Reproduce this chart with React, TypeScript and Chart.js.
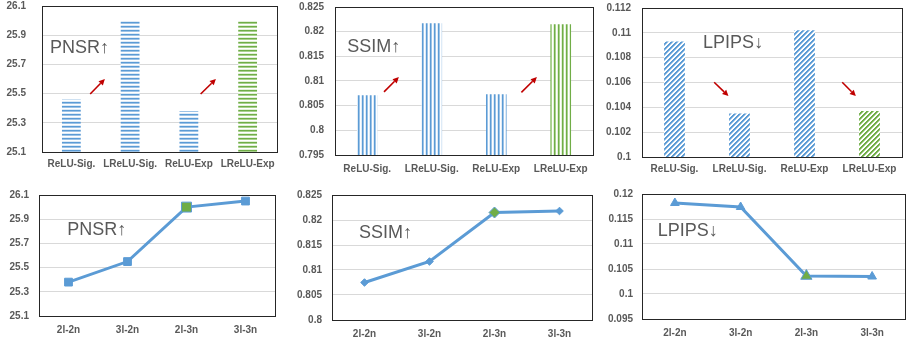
import React, { useEffect, useRef } from "react";
import { Chart, registerables } from "chart.js";

Chart.register(...registerables);

// ---------- data ----------
const barCategories = ["ReLU-Sig.", "LReLU-Sig.", "ReLU-Exp", "LReLU-Exp"];
const barPSNR = [25.46, 26.0, 25.38, 26.0];
const barSSIM = [0.8071, 0.8217, 0.8073, 0.8215];
const barLPIPS = [0.1093, 0.1035, 0.1102, 0.1037];

const lineCategories = ["2l-2n", "3l-2n", "2l-3n", "3l-3n"];
const linePSNR = [25.38, 25.55, 26.0, 26.05];
const lineSSIM = [0.8075, 0.8117, 0.8215, 0.8218];
const lineLPIPS = [0.1182, 0.1174, 0.1036, 0.1035];

// axis ranges [min, max, step]
const axisBarPSNR = [25.1, 26.1, 0.2];
const axisBarSSIM = [0.795, 0.825, 0.005];
const axisBarLPIPS = [0.1, 0.112, 0.002];
const axisLinePSNR = [25.1, 26.1, 0.2];
const axisLineSSIM = [0.8, 0.825, 0.005];
const axisLineLPIPS = [0.095, 0.12, 0.005];

// red arrows: [xIndexFrom, yFrom, xIndexTo, yTo]
const arrowsPSNR = [[0.32, 25.497, 0.57, 25.6], [2.2, 25.497, 2.46, 25.6]];
const arrowsSSIM = [[0.26, 0.8078, 0.49, 0.8108], [2.39, 0.8077, 2.63, 0.8108]];
const arrowsLPIPS = [[0.61, 0.10602, 0.83, 0.10491], [2.58, 0.10602, 2.79, 0.10491]];

const highlightIndex = 2;

// ---------- styling ----------
const BLUE = "#5B9BD5";
const BLUE_MID = "#9DC3E6";
const BLUE_PALE = "#DEEBF7";
const GREEN = "#70AD47";
const GREEN_MID = "#A9D18E";
const GREEN_PALE = "#E2F0D9";
const TEXT = "#595959";
const FONT = "'Liberation Sans', Arial, 'DejaVu Sans', sans-serif";

function makePattern(kind: string, dark: string, mid: string, pale: string) {
  const n = kind === "d" ? 5 : 4;
  const c = document.createElement("canvas");
  c.width = n;
  c.height = n;
  const g = c.getContext("2d")!;
  g.fillStyle = "#ffffff";
  g.fillRect(0, 0, n, n);
  for (let y = 0; y < n; y++) {
    for (let x = 0; x < n; x++) {
      const k = kind === "h" ? y : kind === "v" ? x : (x + y) % n;
      let col: string | null = null;
      if (kind === "d") {
        col = k === 0 || k === 1 ? dark : k === 2 ? mid : null;
      } else {
        col = k === 0 ? dark : k === 1 ? mid : k === 3 ? pale : null;
      }
      if (col) {
        g.fillStyle = col;
        g.fillRect(x, y, 1, 1);
      }
    }
  }
  return g.createPattern(c, "repeat")!;
}

function fmt(v: number) {
  return String(parseFloat(Number(v).toFixed(4)));
}

type Panel = {
  kind: "bar" | "line";
  cx: number; cy: number; cw: number; ch: number;
  L: number; R: number; T: number; B: number;
  yPad: number; xPad: number;
  categories: string[];
  values: number[];
  axis: number[];
  label: string;
  labelFx: number; labelFy: number;
  pattern?: string;
  arrows?: number[][];
  pointStyle?: string;
  radius?: number;
  bigRadius?: number;
};

const panels: Panel[] = [
  { kind: "bar", cx: 0, cy: -6, cw: 300, ch: 190, L: 42, R: 277, T: 6, B: 152, yPad: 16, xPad: 6,
    categories: barCategories, values: barPSNR, axis: axisBarPSNR, label: "PNSR↑", labelFx: 0.034, labelFy: 0.29,
    pattern: "h", arrows: arrowsPSNR },
  { kind: "bar", cx: 282, cy: -6, cw: 315, ch: 190, L: 335, R: 593, T: 7, B: 155, yPad: 11, xPad: 8,
    categories: barCategories, values: barSSIM, axis: axisBarSSIM, label: "SSIM↑", labelFx: 0.047, labelFy: 0.27,
    pattern: "v", arrows: arrowsSSIM },
  { kind: "bar", cx: 598, cy: -6, cw: 318, ch: 190, L: 642, R: 902, T: 8, B: 157, yPad: 11, xPad: 6,
    categories: barCategories, values: barLPIPS, axis: axisBarLPIPS, label: "LPIPS↓", labelFx: 0.235, labelFy: 0.235,
    pattern: "d", arrows: arrowsLPIPS },
  { kind: "line", cx: 0, cy: 172, cw: 300, ch: 173, L: 39, R: 275, T: 195, B: 316, yPad: 10, xPad: 8,
    categories: lineCategories, values: linePSNR, axis: axisLinePSNR, label: "PNSR↑", labelFx: 0.12, labelFy: 0.29,
    pointStyle: "rect", radius: 5.5, bigRadius: 7 },
  { kind: "line", cx: 282, cy: 172, cw: 315, ch: 173, L: 332, R: 592, T: 195, B: 320, yPad: 10, xPad: 8,
    categories: lineCategories, values: lineSSIM, axis: axisLineSSIM, label: "SSIM↑", labelFx: 0.104, labelFy: 0.306,
    pointStyle: "rectRot", radius: 3.8, bigRadius: 5.5 },
  { kind: "line", cx: 598, cy: 172, cw: 318, ch: 173, L: 642, R: 905, T: 194, B: 319, yPad: 9, xPad: 8,
    categories: lineCategories, values: lineLPIPS, axis: axisLineLPIPS, label: "LPIPS↓", labelFx: 0.06, labelFy: 0.3,
    pointStyle: "triangle", radius: 5, bigRadius: 6.5 },
];

function PanelChart({ p }: { p: Panel }) {
  const ref = useRef<HTMLCanvasElement | null>(null);
  useEffect(() => {
    const canvas = ref.current!;
    const n = p.values.length;
    let dataset: any;
    if (p.kind === "bar") {
      const blue = makePattern(p.pattern!, BLUE, BLUE_MID, BLUE_PALE);
      const green = makePattern(p.pattern!, GREEN, GREEN_MID, GREEN_PALE);
      dataset = {
        data: p.values,
        backgroundColor: p.values.map((_, i) => (i === n - 1 ? green : blue)),
        borderWidth: 0,
        barPercentage: 0.32,
        categoryPercentage: 1,
      };
    } else {
      dataset = {
        data: p.values,
        borderColor: BLUE,
        borderWidth: 3,
        tension: 0,
        pointStyle: p.pointStyle,
        pointRadius: p.values.map((_, i) => (i === highlightIndex ? p.bigRadius : p.radius)),
        pointBackgroundColor: p.values.map((_, i) => (i === highlightIndex ? GREEN : BLUE)),
        pointBorderColor: BLUE,
        pointBorderWidth: 1,
      };
    }

    const decor = {
      id: "decor",
      afterDraw(chart: any) {
        const ctx = chart.ctx;
        const a = chart.chartArea;
        const xs = chart.scales.x;
        const ys = chart.scales.y;
        ctx.save();
        // frame
        ctx.strokeStyle = "#262626";
        ctx.lineWidth = 1;
        ctx.strokeRect(Math.round(a.left) + 0.5, Math.round(a.top) + 0.5,
          Math.round(a.right - a.left), Math.round(a.bottom - a.top));
        // label text
        ctx.fillStyle = TEXT;
        ctx.font = "18px " + FONT;
        ctx.textBaseline = "middle";
        ctx.textAlign = "left";
        ctx.fillText(p.label, a.left + p.labelFx * (a.right - a.left), a.top + p.labelFy * (a.bottom - a.top));
        // arrows
        if (p.arrows) {
          ctx.strokeStyle = "#C00000";
          ctx.fillStyle = "#C00000";
          ctx.lineWidth = 1.6;
          for (const [i1, v1, i2, v2] of p.arrows) {
            const x1 = xs.getPixelForValue(i1);
            const y1 = ys.getPixelForValue(v1);
            const x2 = xs.getPixelForValue(i2);
            const y2 = ys.getPixelForValue(v2);
            const ang = Math.atan2(y2 - y1, x2 - x1);
            const hl = 6;
            const hx = x2 - hl * Math.cos(ang);
            const hy = y2 - hl * Math.sin(ang);
            ctx.beginPath();
            ctx.moveTo(x1, y1);
            ctx.lineTo(hx, hy);
            ctx.stroke();
            ctx.beginPath();
            ctx.moveTo(x2, y2);
            ctx.lineTo(hx + 3 * Math.sin(ang), hy - 3 * Math.cos(ang));
            ctx.lineTo(hx - 3 * Math.sin(ang), hy + 3 * Math.cos(ang));
            ctx.closePath();
            ctx.fill();
          }
        }
        ctx.restore();
      },
    };

    const tickFont = { family: FONT, size: 10, weight: "bold" as const };
    const chart = new Chart(canvas, {
      type: p.kind,
      data: { labels: p.categories, datasets: [dataset] },
      plugins: [decor],
      options: {
        responsive: false,
        animation: false,
        layout: {
          padding: { left: 0, top: p.T - p.cy, right: p.cx + p.cw - p.R, bottom: 0 },
        },
        plugins: { legend: { display: false }, tooltip: { enabled: false } },
        scales: {
          x: {
            type: "category",
            offset: true,
            grid: { display: false, drawTicks: false },
            border: { display: false },
            ticks: { color: TEXT, font: tickFont, padding: p.xPad, maxRotation: 0, autoSkip: false },
            afterFit(scale: any) {
              scale.height = p.cy + p.ch - p.B;
            },
          },
          y: {
            min: p.axis[0],
            max: p.axis[1],
            grid: {
              color: "#D9D9D9",
              lineWidth: 1,
              drawTicks: true,
              tickLength: p.yPad,
              tickColor: "rgba(0,0,0,0)",
            },
            border: { display: false },
            ticks: {
              stepSize: p.axis[2],
              color: TEXT,
              font: tickFont,
              padding: 0,
              callback: (v: any) => fmt(v),
            },
            afterFit(scale: any) {
              scale.width = p.L - p.cx;
            },
          },
        },
      } as any,
    });
    return () => chart.destroy();
  }, [p]);

  return (
    <canvas
      ref={ref}
      width={p.cw}
      height={p.ch}
      style={{ position: "absolute", left: p.cx, top: p.cy, width: p.cw, height: p.ch }}
    />
  );
}

export default function App() {
  return (
    <div style={{ position: "absolute", left: 0, top: 0, width: 916, height: 345, background: "#ffffff", overflow: "hidden" }}>
      {panels.map((p, i) => (
        <PanelChart key={i} p={p} />
      ))}
    </div>
  );
}
